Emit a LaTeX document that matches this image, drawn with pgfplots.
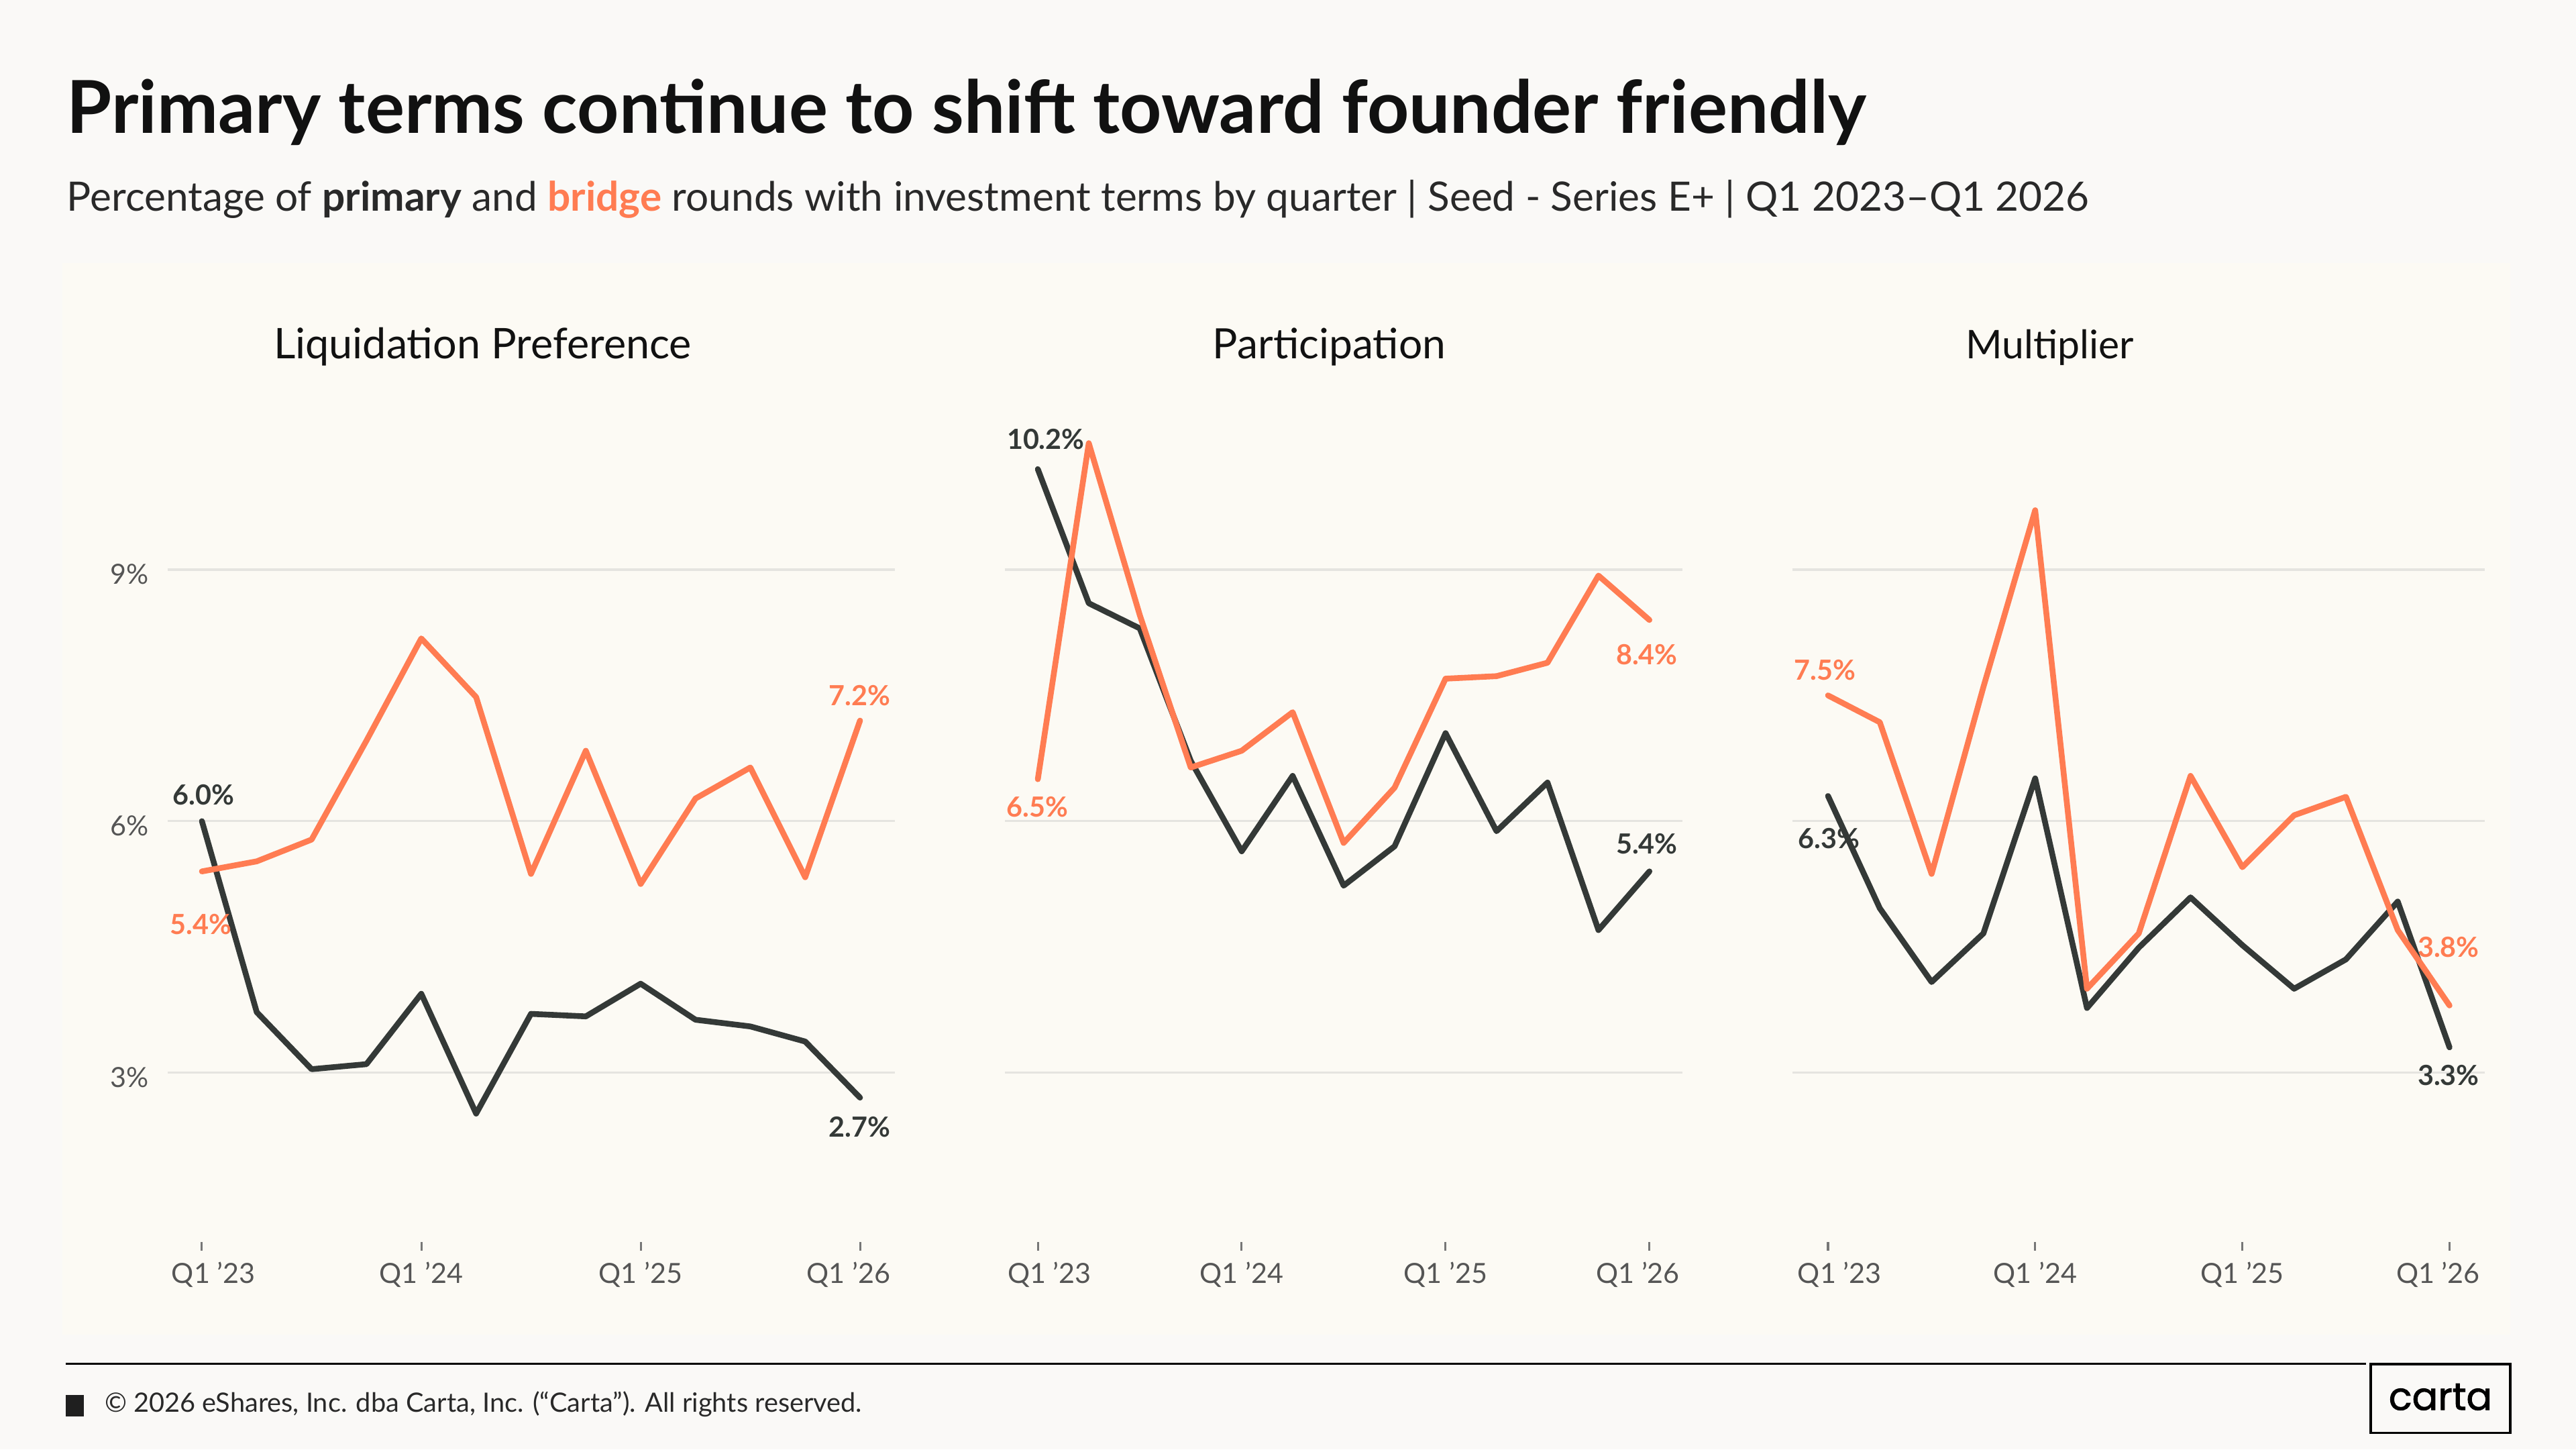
\documentclass[border=0pt]{standalone}
\usepackage{pgfplots}
\pgfplotsset{compat=1.18}
\usepackage{fontspec}
\setmainfont{Lato}
\newfontfamily\poppins{Poppins}[FakeBold=1.6]
\definecolor{outerbg}{RGB}{250,249,247}
\definecolor{panelbg}{RGB}{252,250,244}
\definecolor{darkline}{RGB}{52,57,55}
\definecolor{orangeline}{RGB}{255,124,82}
\definecolor{gridc}{RGB}{229,228,224}
\definecolor{tickc}{RGB}{85,85,85}
\definecolor{titlec}{RGB}{17,17,17}
\pgfplotsset{
  panel/.style={
    scale only axis, anchor=south west,
    ymin=0.876, ymax=11, ytick={3,6,9},
    xtick={0,4,8,12},
    xticklabels={{\hspace*{0.14cm}Q1 ’23},{Q1 ’24},{Q1 ’25},{Q1 ’26\hspace*{0.14cm}}},
    axis line style={draw=none},
    ymajorgrids, major grid style={draw=gridc, line width=0.4pt},
    xtick pos=lower, ytick pos=left, tick align=inside,
    major tick length=0.05cm,
    x tick style={draw=tickc!80, line width=0.35pt},
    y tick style={draw=none},
    tick label style={font=\fontsize{4.8}{5.8}\selectfont, text=tickc},
    x tick label style={anchor=base, yshift=-0.2cm, inner sep=0pt},
    clip=false,
    every axis plot/.append style={line width=1.0pt, line join=round, line cap=round, mark=none},
  },
}
\tikzset{dl/.style={font=\fontsize{4.8}{5.8}\selectfont\bfseries, inner sep=0pt, anchor=center}}
\begin{document}
\begin{tikzpicture}
\fill[outerbg] (0,0) rectangle (15.68,8.82);
\fill[panelbg] (0.38,0.70) rectangle (15.28,7.22);
% titles
\node[anchor=base west, inner sep=0pt, text=titlec] at (0.40,8.01) {\resizebox{10.95cm}{!}{\bfseries Primary terms continue to shift toward founder friendly}};
\node[anchor=base west, inner sep=0pt, text=titlec!90] at (0.40,7.535) {\resizebox{12.31cm}{!}{Percentage of \textbf{primary} and \textcolor{orangeline}{\textbf{bridge}} rounds with investment terms by quarter | Seed - Series E+ | Q1 2023–Q1 2026}};
\node[anchor=base, inner sep=0pt, text=titlec] at (2.938,6.637) {\resizebox{2.544cm}{!}{Liquidation Preference}};
\node[anchor=base, inner sep=0pt, text=titlec] at (8.091,6.637) {\resizebox{1.418cm}{!}{Participation}};
\node[anchor=base, inner sep=0pt, text=titlec] at (12.478,6.637) {\resizebox{1.023cm}{!}{Multiplier}};

% Panel 1
\begin{axis}[panel, at={(1.02cm,1.21cm)}, width=4.427cm, height=5.163cm,
  xmin=-0.626, xmax=12.635,
  yticklabels={3\%,6\%,9\%},
  y tick label style={anchor=mid east, inner sep=0pt, xshift=-0.11cm}]
\addplot[darkline] coordinates {(0,6.0) (1,3.72) (2,3.04) (3,3.10) (4,3.94) (5,2.51) (6,3.70) (7,3.67) (8,4.06) (9,3.63) (10,3.55) (11,3.37) (12,2.7)};
\addplot[orangeline] coordinates {(0,5.4) (1,5.52) (2,5.78) (3,6.96) (4,8.18) (5,7.48) (6,5.37) (7,6.84) (8,5.25) (9,6.27) (10,6.64) (11,5.33) (12,7.2)};
\node[dl, text=darkline] at (axis cs:0.03,6.31) {6.0\%};
\node[dl, text=orangeline] at (axis cs:-0.02,4.77) {5.4\%};
\node[dl, text=orangeline] at (axis cs:11.99,7.50) {7.2\%};
\node[dl, text=darkline] at (axis cs:11.99,2.35) {2.7\%};
\end{axis}

% Panel 2
\begin{axis}[panel, at={(6.117cm,1.21cm)}, width=4.123cm, height=5.163cm,
  xmin=-0.645, xmax=12.645, yticklabels={}]
\addplot[darkline] coordinates {(0,10.2) (1,8.60) (2,8.30) (3,6.72) (4,5.64) (5,6.54) (6,5.23) (7,5.70) (8,7.05) (9,5.88) (10,6.46) (11,4.70) (12,5.4)};
\addplot[orangeline] coordinates {(0,6.5) (1,10.51) (2,8.46) (3,6.64) (4,6.84) (5,7.30) (6,5.74) (7,6.40) (8,7.70) (9,7.73) (10,7.89) (11,8.93) (12,8.4)};
\node[dl, text=darkline] at (axis cs:0.155,10.56) {10.2\%};
\node[dl, text=orangeline] at (axis cs:-0.01,6.17) {6.5\%};
\node[dl, text=orangeline] at (axis cs:11.95,7.99) {8.4\%};
\node[dl, text=darkline] at (axis cs:11.95,5.73) {5.4\%};
\end{axis}

% Panel 3
\begin{axis}[panel, at={(10.91cm,1.21cm)}, width=4.215cm, height=5.163cm,
  xmin=-0.688, xmax=12.682, yticklabels={}]
\addplot[darkline] coordinates {(0,6.3) (1,4.96) (2,4.08) (3,4.66) (4,6.51) (5,3.77) (6,4.49) (7,5.09) (8,4.52) (9,4.00) (10,4.35) (11,5.04) (12,3.3)};
\addplot[orangeline] coordinates {(0,7.5) (1,7.18) (2,5.37) (3,7.60) (4,9.71) (5,4.00) (6,4.66) (7,6.54) (8,5.45) (9,6.07) (10,6.29) (11,4.70) (12,3.8)};
\node[dl, text=orangeline] at (axis cs:-0.06,7.80) {7.5\%};
\node[dl, text=darkline] at (axis cs:0.02,5.79) {6.3\%};
\node[dl, text=orangeline] at (axis cs:11.98,4.50) {3.8\%};
\node[dl, text=darkline] at (axis cs:11.98,2.97) {3.3\%};
\end{axis}

% footer
\draw[line width=0.35pt, black] (0.40,0.52) -- (14.40,0.52);
\fill[black!88] (0.40,0.20) rectangle (0.51,0.33);
\node[anchor=base west, inner sep=0pt, text=titlec!90] at (0.63,0.225) {\resizebox{4.61cm}{!}{© 2026 eShares, Inc. dba Carta, Inc. (“Carta”). All rights reserved.}};
\draw[line width=0.45pt, black] (14.43,0.10) rectangle (15.28,0.52);
\node[anchor=base, inner sep=0pt, text=black] at (14.855,0.24) {\resizebox{0.63cm}{!}{\poppins carta}};
\pgfresetboundingbox
\path[use as bounding box] (0,0) rectangle (15.68,8.82);
\end{tikzpicture}
\end{document}
